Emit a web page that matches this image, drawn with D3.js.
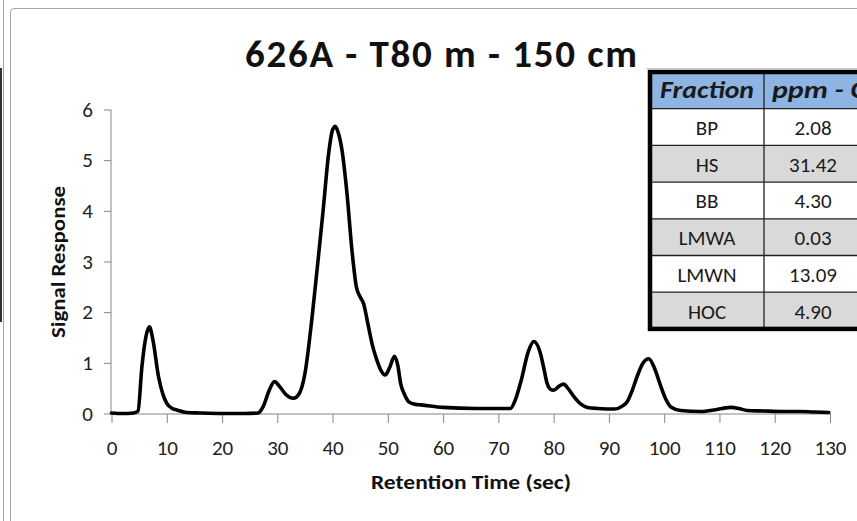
<!DOCTYPE html>
<html><head><meta charset="utf-8">
<script src="https://cdn.jsdelivr.net/npm/d3@7"></script>
<style>
html,body{margin:0;padding:0;background:#fff;}
svg{display:block;font-family:Carlito,Calibri,Lato,sans-serif;}
</style></head>
<body><svg id="c" width="857" height="521"></svg>
<script>
const title = "626A - T80 m - 150 cm";
const xTitle = "Retention Time (sec)";
const yTitle = "Signal Response";
const xTicks = [0,10,20,30,40,50,60,70,80,90,100,110,120,130];
const yTicks = [0,1,2,3,4,5,6];
const retentionTime = [0,2,4,4.8,5.5,6.2,6.85,7.5,8.5,9.3,10,11,11.8,13.6,16,20,24,26.5,27.5,28.5,29.5,30.5,31.5,32.9,34,35,36.3,37.5,38.3,39.3,40,40.5,41,41.7,42.6,43.5,44.3,45,45.6,46.5,47.2,48,48.8,49.5,50.3,51.2,51.8,52.3,53,53.8,55,56,60,66,70,72.2,73,74,75.5,76.4,77.6,78.3,78.8,79.4,80,81,81.8,82.7,83.7,85,86.1,88,91,92.5,93.3,94.2,95.1,96.2,97.2,98.3,99.4,100.3,101.2,103,106.6,109,110.5,112,113.5,115,118,121,124.7,127,129.8];
const signal = [0.01,0,0.01,0.05,0.92,1.5,1.71,1.45,0.73,0.38,0.2,0.1,0.07,0.02,0.01,0,0,0.01,0.15,0.45,0.63,0.52,0.38,0.3,0.4,0.79,1.91,3.16,4.02,5.14,5.6,5.67,5.55,5.2,4.35,3.23,2.5,2.3,2.17,1.71,1.35,1.06,0.84,0.76,0.9,1.13,0.95,0.6,0.38,0.23,0.18,0.17,0.12,0.1,0.1,0.1,0.25,0.6,1.25,1.42,1.19,0.85,0.6,0.48,0.46,0.54,0.58,0.48,0.33,0.18,0.12,0.1,0.09,0.15,0.23,0.45,0.73,1.0,1.08,0.88,0.53,0.28,0.13,0.06,0.04,0.07,0.1,0.12,0.1,0.06,0.05,0.04,0.04,0.03,0.02];
const tableHeader = ["Fraction","ppm - C"];
const fractions = ["BP","HS","BB","LMWA","LMWN","HOC"];
const ppmC = ["2.08","31.42","4.30","0.03","13.09","4.90"];

const svg = d3.select("#c");
const FONT = "Carlito,Calibri,Lato,sans-serif";
// outer frame lines
svg.append("line").attr("x1",3.5).attr("x2",3.5).attr("y1",0).attr("y2",521).attr("stroke","#a6a6a6");
svg.append("path").attr("d","M10.5,521 V12 Q10.5,8.5 14,8.5 H857").attr("fill","none").attr("stroke","#a6a6a6");
svg.append("line").attr("x1",1).attr("x2",1).attr("y1",68).attr("y2",322).attr("stroke","#333").attr("stroke-width",2);

const x = d3.scaleLinear().domain([0,130]).range([111.5,830]);
const y = d3.scaleLinear().domain([0,6]).range([413.5,109.5]);

// title
svg.append("text").attr("x",441).attr("y",67).attr("text-anchor","middle")
  .attr("font-size",39).attr("font-weight","bold").attr("fill","#111")
  .attr("textLength",392).attr("lengthAdjust","spacing").text(title);

// y axis
const ya = svg.append("g").attr("transform","translate(111,0)")
  .call(d3.axisLeft(y).tickValues(yTicks).tickSize(7).tickPadding(11).tickFormat(d3.format("d")));
ya.select(".domain").attr("stroke","#868686").attr("d","M0,"+y(6)+"V"+y(0));
ya.selectAll(".tick line").attr("stroke","#868686");
ya.selectAll("text").attr("font-size",21).attr("fill","#222").attr("font-family",FONT);

// x axis
const xa = svg.append("g").attr("transform","translate(0,414)")
  .call(d3.axisBottom(x).tickValues(xTicks).tickSize(9).tickPadding(17).tickFormat(d3.format("d")));
xa.select(".domain").attr("stroke","#868686").attr("d","M"+x(0)+",0H"+x(130));
xa.selectAll(".tick line").attr("stroke","#868686");
xa.selectAll("text").attr("font-size",21).attr("fill","#222").attr("font-family",FONT);

// axis titles
svg.append("text").attr("x",471).attr("y",489).attr("text-anchor","middle")
  .attr("font-size",21).attr("font-weight","bold").attr("fill","#111")
  .attr("textLength",200).attr("lengthAdjust","spacingAndGlyphs").text(xTitle);
svg.append("text").attr("transform","translate(65,262) rotate(-90)").attr("text-anchor","middle")
  .attr("font-size",21).attr("font-weight","bold").attr("fill","#111")
  .attr("textLength",152).attr("lengthAdjust","spacingAndGlyphs").text(yTitle);

// line
const pts = retentionTime.map((t,i)=>[t,signal[i]]);
svg.append("path").datum(pts)
  .attr("d", d3.line().x(d=>x(d[0])).y(d=>y(d[1])).curve(d3.curveMonotoneX))
  .attr("fill","none").attr("stroke","#000").attr("stroke-width",3.6)
  .attr("stroke-linejoin","round").attr("stroke-linecap","round");

// table
const tx0 = 650, tc1 = 764, tx1 = 866, ty0 = 72, rowH = 36.7;
const rows = [tableHeader].concat(fractions.map((f,i)=>[f,ppmC[i]]));
const tg = svg.append("g");
svg.append("line").attr("x1",646).attr("x2",857).attr("y1",68.5).attr("y2",68.5).attr("stroke","#c8c8c8");
rows.forEach((r,i)=>{
  const fill = i===0 ? "#8db4e2" : (i%2===0 ? "#d9d9d9" : "#ffffff");
  tg.append("rect").attr("x",tx0).attr("y",ty0+i*rowH).attr("width",tx1-tx0).attr("height",rowH).attr("fill",fill);
  if(i>0) tg.append("line").attr("x1",tx0).attr("x2",tx1).attr("y1",ty0+i*rowH).attr("y2",ty0+i*rowH).attr("stroke","#222").attr("stroke-width",1.3);
  if(i===0){
    tg.append("text").attr("x",(tx0+tc1)/2).attr("y",ty0+rowH/2+8).attr("text-anchor","middle")
      .attr("font-size",24).attr("font-weight","bold").attr("font-style","italic").attr("fill","#1a1a1a")
      .attr("textLength",94).attr("lengthAdjust","spacingAndGlyphs").text(r[0]);
    tg.append("text").attr("x",772).attr("y",ty0+rowH/2+8).attr("text-anchor","start")
      .attr("font-size",24).attr("font-weight","bold").attr("font-style","italic").attr("fill","#1a1a1a")
      .attr("textLength",94).attr("lengthAdjust","spacingAndGlyphs").text(r[1]);
  } else {
    [ (tx0+tc1)/2, 813 ].forEach((cx,j)=>{
      tg.append("text").attr("x",cx).attr("y",ty0+i*rowH+rowH/2+8).attr("text-anchor","middle")
        .attr("font-size",21).attr("fill","#1a1a1a").text(r[j]);
    });
  }
});
tg.append("line").attr("x1",tc1).attr("x2",tc1).attr("y1",ty0).attr("y2",ty0+7*rowH).attr("stroke","#222").attr("stroke-width",1.3);
tg.append("rect").attr("x",tx0).attr("y",ty0).attr("width",tx1-tx0).attr("height",7*rowH)
  .attr("fill","none").attr("stroke","#000").attr("stroke-width",4.5);
</script></body></html>
